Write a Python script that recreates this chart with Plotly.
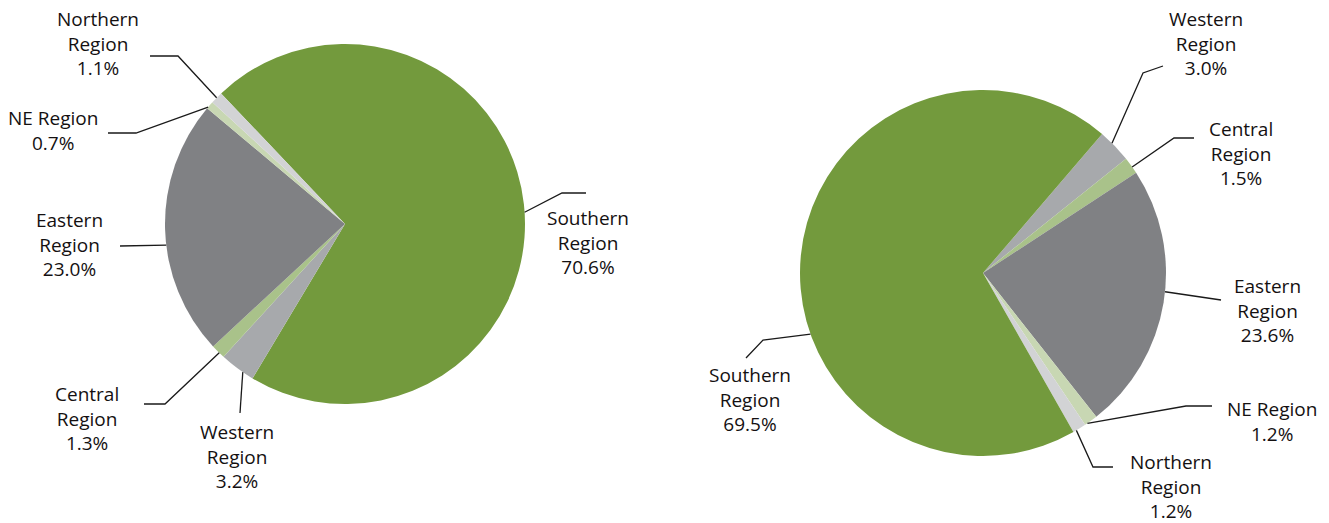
import math
import plotly.graph_objects as go

W, H = 1329, 523

# ---------------- data ----------------
regions_left = ["Southern Region", "Western Region", "Central Region",
                "Eastern Region", "NE Region", "Northern Region"]
share_left = [70.6, 3.2, 1.3, 23.0, 0.7, 1.1]

regions_right = ["Western Region", "Central Region", "Eastern Region",
                 "NE Region", "Northern Region", "Southern Region"]
share_right = [3.0, 1.5, 23.6, 1.2, 1.2, 69.5]

# ---------------- style ----------------
colors = {
    "Southern Region": "#739a3d",
    "Eastern Region": "#808184",
    "Western Region": "#a7a9ac",
    "Central Region": "#a9c28a",
    "NE Region": "#c8d7b3",
    "Northern Region": "#d2d3d5",
}
FONT = "Open Sans, Lato, Arial, sans-serif"
TXT = "#141011"

# pie geometry (pixels): center x, center y, radius, rotation
pies = [
    dict(cx=345, cy=224, r=180, rot=-43.5, labels=regions_left, values=share_left,
         layout={
             "Southern Region": dict(lab=(588, 242), frac=0.51, path=[(562, 193), (586, 193)]),
             "Western Region": dict(lab=(237, 456), frac=0.32, path=[(240, 413)]),
             "Central Region": dict(lab=(87, 418), frac=0.40, path=[(165, 404), (144, 404)]),
             "Eastern Region": dict(lab=(69, 244), frac=0.436, path=[(120, 246)]),
             "NE Region": dict(lab=(53, 130), frac=0.2, path=[(136, 133), (108, 133)]),
             "Northern Region": dict(lab=(98, 43), frac=0.5, path=[(178, 56), (150, 56)]),
         }),
    dict(cx=983, cy=273, r=183, rot=40.6, labels=regions_right, values=share_right,
         layout={
             "Western Region": dict(lab=(1206, 43), frac=0.39, path=[(1143, 73), (1163, 66)]),
             "Central Region": dict(lab=(1241, 153), frac=0.59, path=[(1174, 138), (1194, 138)]),
             "Eastern Region": dict(lab=(1267, 310), frac=0.46, path=[(1221, 300)]),
             "NE Region": dict(lab=(1272, 421), frac=0.8, path=[(1186, 406), (1212, 406)]),
             "Northern Region": dict(lab=(1171, 486), frac=0.75, path=[(1093, 467), (1113, 467)]),
             "Southern Region": dict(lab=(750, 399), frac=0.40, path=[(763, 340), (746, 358)]),
         }),
]


def px(x, y):
    return x / W, 1 - y / H


fig = go.Figure()
shapes = []
annotations = []

for p in pies:
    cx, cy, r = p["cx"], p["cy"], p["r"]
    fig.add_trace(go.Pie(
        labels=p["labels"], values=p["values"],
        sort=False, direction="clockwise", rotation=p["rot"],
        marker=dict(colors=[colors[l] for l in p["labels"]], line=dict(width=0)),
        textinfo="none", hoverinfo="label+percent", showlegend=False,
        domain=dict(x=[(cx - r) / W, (cx + r) / W],
                    y=[1 - (cy + r) / H, 1 - (cy - r) / H]),
    ))
    total = sum(p["values"])
    ang = p["rot"]
    for lab, val in zip(p["labels"], p["values"]):
        span = val / total * 360.0
        spec = p["layout"][lab]
        a = math.radians(ang + span * spec["frac"])
        sx, sy = cx + r * math.sin(a), cy - r * math.cos(a)
        pts = [(sx, sy)] + spec["path"]
        d = "M " + " L ".join(f"{px(x, y)[0]:.5f},{px(x, y)[1]:.5f}" for x, y in pts)
        shapes.append(dict(type="path", path=d, xref="paper", yref="paper",
                           line=dict(color="#1a1a1a", width=1.3)))
        name = lab if lab == "NE Region" else lab.replace(" Region", "<br>Region")
        lx, ly = px(*spec["lab"])
        annotations.append(dict(
            text=f"{name}<br>{val:.1f}%", x=lx, y=ly, xref="paper", yref="paper",
            xanchor="center", yanchor="middle", align="center", showarrow=False,
            font=dict(family=FONT, size=19, color=TXT)))
        ang += span

fig.update_layout(
    width=W, height=H,
    margin=dict(l=0, r=0, t=0, b=0),
    paper_bgcolor="white", plot_bgcolor="white",
    shapes=shapes, annotations=annotations,
)

fig.write_html("out.html",
               config={"displayModeBar": False},
               post_script="document.body.style.margin='0px';"
                           "document.body.style.overflow='hidden';")
